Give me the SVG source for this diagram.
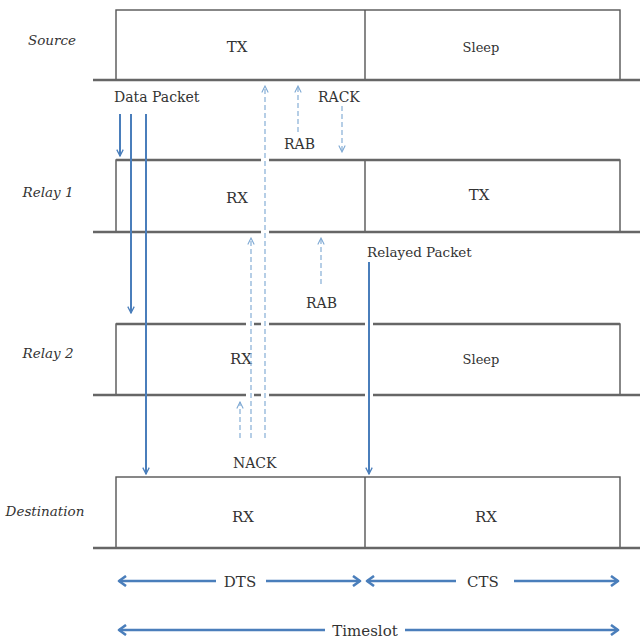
<svg xmlns="http://www.w3.org/2000/svg" width="640" height="640" viewBox="0 0 640 640">
  <defs>
    <marker id="hd" viewBox="0 0 10 10" refX="9" refY="5" markerWidth="8" markerHeight="8" orient="auto" markerUnits="userSpaceOnUse">
      <path d="M1,1 L9,5 L1,9" fill="none" stroke="#4a7ebb" stroke-width="1.6"/>
    </marker>
    <marker id="dash" viewBox="0 0 10 10" refX="9" refY="5" markerWidth="8" markerHeight="8" orient="auto" markerUnits="userSpaceOnUse">
      <path d="M1,1 L9,5 L1,9" fill="none" stroke="#7aa6d2" stroke-width="1.3"/>
    </marker>
    <marker id="span" viewBox="0 0 12 12" refX="10" refY="6" markerWidth="12" markerHeight="12" orient="auto" markerUnits="userSpaceOnUse">
      <path d="M3,1 L10,6 L3,11" fill="none" stroke="#4a7ebb" stroke-width="2.6" stroke-linejoin="round"/>
    </marker>
  </defs>
  <style>
    .box { fill: none; stroke: #555; stroke-width: 1.4; }
    .base { stroke: #666; stroke-width: 2.6; }
    .cut { stroke: #ffffff; stroke-width: 8; }
    text { font-family: "DejaVu Serif", "Liberation Serif", serif; fill: #333; }
    .state { font-size: 15px; text-anchor: middle; }
    .small { font-size: 13px; text-anchor: middle; }
    .row { font-style: italic; font-size: 13.5px; text-anchor: middle; }
    .lbl { font-size: 14px; }
    .lbl2 { font-size: 13.5px; }
    .solid { fill: none; stroke: #4a7ebb; stroke-width: 2; }
    .dashed { fill: none; stroke: #7aa6d2; stroke-width: 1.1; stroke-dasharray: 5 3; }
    .spanline { fill: none; stroke: #4a7ebb; stroke-width: 2.6; }
  </style>
  <rect width="640" height="640" fill="#ffffff"/>

  <!-- Source -->
  <g id="source">
    <text class="row" x="52" y="45">Source</text>
    <rect class="box" x="116" y="10" width="504" height="70"/>
    <line class="box" x1="365" y1="10" x2="365" y2="80"/>
    <line class="base" x1="93" y1="80" x2="640" y2="80"/>
    <text class="state" x="237" y="52">TX</text>
    <text class="small" x="481" y="52">Sleep</text>
  </g>

  <!-- Relay 1 -->
  <g id="relay1">
    <text class="row" x="48" y="197">Relay 1</text>
    <rect class="box" x="116" y="160" width="504" height="72"/>
    <line class="box" x1="365" y1="160" x2="365" y2="232"/>
    <line class="base" x1="116" y1="160" x2="620" y2="160"/>
    <line class="base" x1="93" y1="232" x2="640" y2="232"/>
    <line class="cut" x1="265" y1="156" x2="265" y2="164"/>
    <line class="cut" x1="265" y1="228" x2="265" y2="236"/>
    <text class="state" x="237" y="203">RX</text>
    <text class="state" x="479" y="200">TX</text>
  </g>

  <!-- Relay 2 -->
  <g id="relay2">
    <text class="row" x="48" y="358">Relay 2</text>
    <rect class="box" x="116" y="324" width="504" height="71"/>
    <line class="base" x1="116" y1="324" x2="620" y2="324"/>
    <line class="base" x1="93" y1="395" x2="640" y2="395"/>
    <line class="cut" x1="250" y1="320" x2="250" y2="328"/>
    <line class="cut" x1="265" y1="320" x2="265" y2="328"/>
    <line class="cut" x1="369" y1="320" x2="369" y2="328"/>
    <line class="cut" x1="250" y1="391" x2="250" y2="399"/>
    <line class="cut" x1="265" y1="391" x2="265" y2="399"/>
    <line class="cut" x1="369" y1="391" x2="369" y2="399"/>
    <text class="state" x="241" y="364">RX</text>
    <text class="small" x="481" y="364">Sleep</text>
  </g>

  <!-- Destination -->
  <g id="destination">
    <text class="row" x="45" y="516">Destination</text>
    <rect class="box" x="116" y="477" width="504" height="71"/>
    <line class="box" x1="365" y1="477" x2="365" y2="548"/>
    <line class="base" x1="93" y1="548" x2="640" y2="548"/>
    <text class="state" x="243" y="522">RX</text>
    <text class="state" x="486" y="522">RX</text>
  </g>

  <!-- Connectors -->
  <g id="connectors">
    <!-- data packet from the source -->
    <line class="solid" x1="120" y1="114" x2="120" y2="156" marker-end="url(#hd)"/>
    <line class="solid" x1="131" y1="114" x2="131" y2="313" marker-end="url(#hd)"/>
    <line class="solid" x1="146" y1="114" x2="146" y2="474" marker-end="url(#hd)"/>
    <!-- relayed packet -->
    <line class="solid" x1="369" y1="262" x2="369" y2="474" marker-end="url(#hd)"/>

    <!-- control messages -->
    <line class="dashed" x1="265" y1="438" x2="265" y2="86" marker-end="url(#dash)"/>
    <line class="dashed" x1="251" y1="438" x2="251" y2="238" marker-end="url(#dash)"/>
    <line class="dashed" x1="240" y1="438" x2="240" y2="402" marker-end="url(#dash)"/>
    <line class="dashed" x1="298" y1="132" x2="298" y2="86" marker-end="url(#dash)"/>
    <line class="dashed" x1="342" y1="106" x2="342" y2="152" marker-end="url(#dash)"/>
    <line class="dashed" x1="321" y1="284" x2="321" y2="238" marker-end="url(#dash)"/>

    <text class="lbl" x="114" y="102">Data Packet</text>
    <text class="lbl" x="318" y="102">RACK</text>
    <text class="lbl" x="284" y="149">RAB</text>
    <text class="lbl2" x="367" y="257">Relayed Packet</text>
    <text class="lbl" x="306" y="308">RAB</text>
    <text class="lbl" x="233" y="468">NACK</text>

    <!-- DTS / CTS / timeslot spans -->
    <line class="spanline" x1="216" y1="581" x2="119" y2="581" marker-end="url(#span)"/>
    <line class="spanline" x1="266" y1="581" x2="360" y2="581" marker-end="url(#span)"/>
    <line class="spanline" x1="456" y1="581" x2="367" y2="581" marker-end="url(#span)"/>
    <line class="spanline" x1="514" y1="581" x2="618" y2="581" marker-end="url(#span)"/>
    <text class="state" x="240" y="587">DTS</text>
    <text class="state" x="483" y="587">CTS</text>

    <line class="spanline" x1="325" y1="630" x2="119" y2="630" marker-end="url(#span)"/>
    <line class="spanline" x1="405" y1="630" x2="618" y2="630" marker-end="url(#span)"/>
    <text class="state" x="365" y="636">Timeslot</text>
  </g>
</svg>
